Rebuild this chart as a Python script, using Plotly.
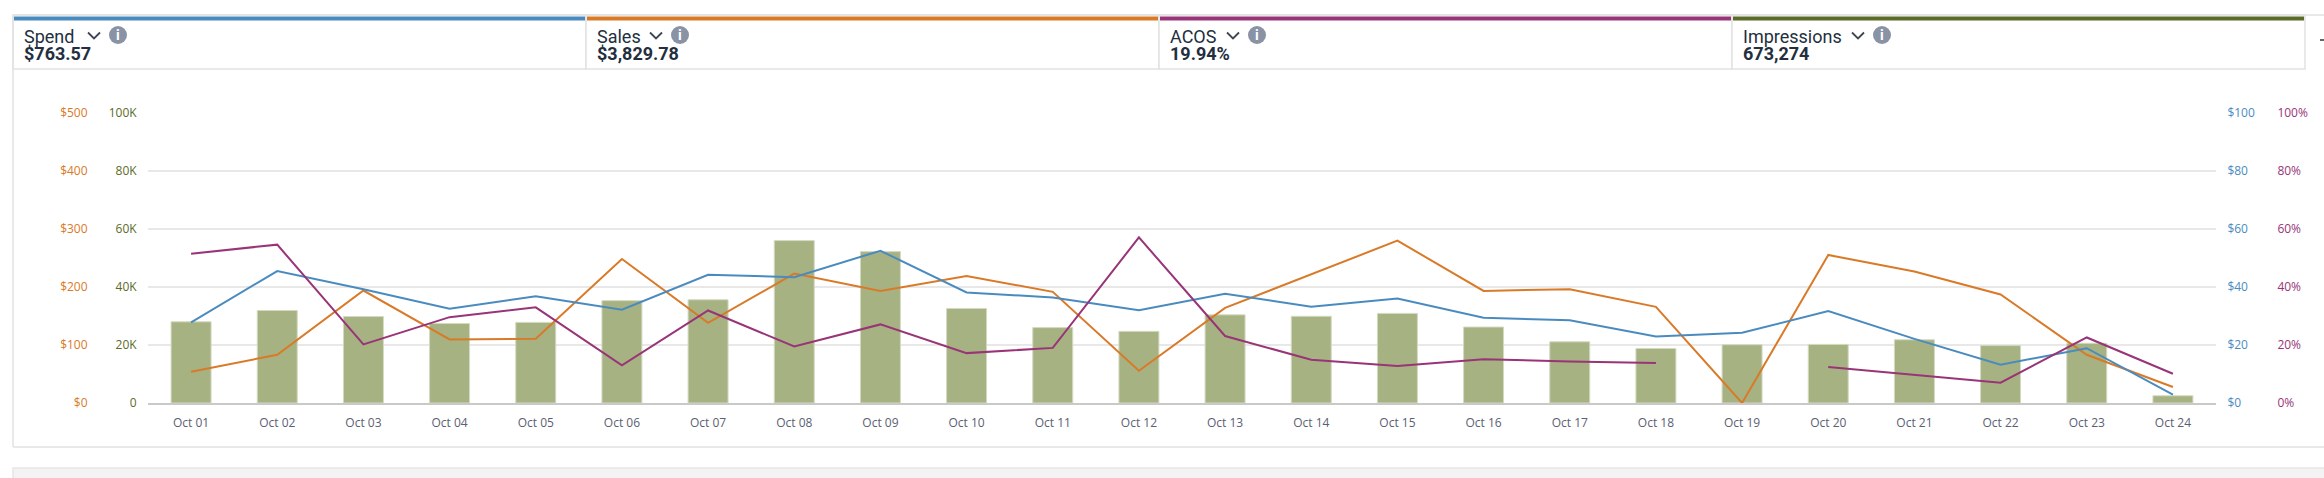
import plotly.graph_objects as go

W, H = 2324, 478

# --- data ---
dates = ["Oct 01", "Oct 02", "Oct 03", "Oct 04", "Oct 05", "Oct 06", "Oct 07", "Oct 08",
         "Oct 09", "Oct 10", "Oct 11", "Oct 12", "Oct 13", "Oct 14", "Oct 15", "Oct 16",
         "Oct 17", "Oct 18", "Oct 19", "Oct 20", "Oct 21", "Oct 22", "Oct 23", "Oct 24"]
impressions = [28000, 31900, 29800, 27400, 27800, 35300, 35600, 56000, 52200, 32600, 26000, 24700,
               30400, 29900, 30900, 26200, 21100, 18800, 20100, 20200, 21800, 19800, 20600, 2500]
spend = [27.8, 45.5, 39.2, 32.5, 36.8, 32.2, 44.2, 43.4, 52.5, 38.1, 36.4, 32.0,
         37.7, 33.2, 36.0, 29.4, 28.5, 22.9, 24.2, 31.7, 22.1, 13.2, 18.9, 2.9]
sales = [53.9, 83.2, 193.9, 109.6, 110.7, 248.4, 138.2, 223.1, 193.3, 219.1, 191.6, 55.6,
         164.0, 221.4, 279.9, 193.3, 196.2, 165.8, 0.0, 255.2, 226.6, 187.0, 83.2, 27.5]
acos = [51.5, 54.6, 20.2, 29.6, 33.0, 13.0, 31.9, 19.5, 27.1, 17.2, 19.0, 57.1,
        23.1, 14.9, 12.8, 15.1, 14.3, 13.8, None, 12.4, 9.8, 7.0, 22.6, 10.1]

metric_names = ["Spend", "Sales", "ACOS", "Impressions"]
metric_totals = ["$763.57", "$3,829.78", "19.94%", "673,274"]

impr_ticks = [0, 20000, 40000, 60000, 80000, 100000]
impr_labels = ["0", "20K", "40K", "60K", "80K", "100K"]
sales_ticks = [0, 100, 200, 300, 400, 500]
sales_labels = ["$0", "$100", "$200", "$300", "$400", "$500"]
spend_ticks = [0, 20, 40, 60, 80, 100]
spend_labels = ["$0", "$20", "$40", "$60", "$80", "$100"]
acos_ticks = [0, 20, 40, 60, 80, 100]
acos_labels = ["0%", "20%", "40%", "60%", "80%", "100%"]

# colours
BLUE = "#4a8bbf"
ORANGE = "#d97a28"
PURPLE = "#983477"
OLIVE_BAR = "#a7b283"
OLIVE_DARK = "#5b6b28"
TEXT_DARK = "#232f3e"
BORDER = "#e2e2e2"


def X(px):
    return px / W


def Y(py):
    return 1 - py / H


# plot area in pixels
PL, PR, PT, PB = 148, 2216, 113, 403

fig = go.Figure()

fig.add_trace(go.Bar(
    x=dates, y=impressions, yaxis="y",
    marker=dict(color=OLIVE_BAR, line=dict(color="#d3dac0", width=1)),
    name="Impressions",
))
fig.add_trace(go.Scatter(
    x=dates, y=spend, yaxis="y3", mode="lines",
    line=dict(color=BLUE, width=2), name="Spend",
))
fig.add_trace(go.Scatter(
    x=dates, y=sales, yaxis="y2", mode="lines",
    line=dict(color=ORANGE, width=2), name="Sales",
))
fig.add_trace(go.Scatter(
    x=dates, y=acos, yaxis="y4", mode="lines", connectgaps=False,
    line=dict(color=PURPLE, width=2), name="ACOS",
))

tick_font = dict(family="Open Sans, sans-serif", size=12)
common_y = dict(showline=False, zeroline=False, automargin=False, fixedrange=True,
                ticks="outside", ticklen=8, tickcolor="rgba(0,0,0,0)")

fig.update_layout(
    template="none",
    width=W, height=H,
    margin=dict(l=0, r=0, t=0, b=0),
    paper_bgcolor="white", plot_bgcolor="white",
    showlegend=False,
    bargap=0.536,
    xaxis=dict(
        domain=[X(PL), X(PR)], range=[-0.5, len(dates) - 0.5],
        showgrid=False, showline=True, linecolor="#c9c9c9", linewidth=2,
        ticks="outside", ticklen=8, tickcolor="rgba(0,0,0,0)",
        tickfont=dict(tick_font, color="#5a6072"), automargin=False,
    ),
    yaxis=dict(
        common_y, domain=[Y(PB), Y(PT)], range=[0, 100000],
        tickvals=impr_ticks, ticktext=impr_labels,
        showgrid=True, gridcolor="#e8e8e8", gridwidth=1.5,
        tickfont=dict(tick_font, color=OLIVE_DARK),
    ),
    yaxis2=dict(
        common_y, overlaying="y", anchor="free", side="left", position=X(98),
        range=[0, 500], tickvals=sales_ticks, ticktext=sales_labels, showgrid=False,
        tickfont=dict(tick_font, color=ORANGE),
    ),
    yaxis3=dict(
        common_y, overlaying="y", anchor="x", side="right",
        range=[0, 100], tickvals=spend_ticks, ticktext=spend_labels, showgrid=False,
        tickfont=dict(tick_font, color=BLUE),
    ),
    yaxis4=dict(
        common_y, overlaying="y", anchor="free", side="right", position=X(2266),
        range=[0, 100], tickvals=acos_ticks, ticktext=acos_labels, showgrid=False,
        tickfont=dict(tick_font, color=PURPLE),
    ),
)

shapes = []
annotations = []

# outer card frame
shapes.append(dict(type="line", xref="paper", yref="paper", x0=X(13), x1=X(W + 5), y0=Y(15), y1=Y(15),
                   line=dict(color=BORDER, width=1.5)))
shapes.append(dict(type="line", xref="paper", yref="paper", x0=X(13), x1=X(13), y0=Y(15), y1=Y(447),
                   line=dict(color=BORDER, width=1.5)))
shapes.append(dict(type="line", xref="paper", yref="paper", x0=X(13), x1=X(W + 5), y0=Y(447), y1=Y(447),
                   line=dict(color=BORDER, width=1.5)))
# next card peeking in at the bottom
shapes.append(dict(type="rect", xref="paper", yref="paper", x0=X(13), x1=X(W + 5), y0=Y(468), y1=Y(H + 5),
                   fillcolor="#f3f3f3", line=dict(color="#e6e6e6", width=1.5)))

# metric header boxes
box_lefts = [13, 586, 1159, 1732]
box_width = 573
bar_colors = [BLUE, ORANGE, PURPLE, OLIVE_DARK]
chevron_offsets = [75, 64, 68, 120]
for i in range(4):
    x0 = box_lefts[i]
    x1 = x0 + box_width
    shapes.append(dict(type="rect", xref="paper", yref="paper", x0=X(x0), x1=X(x1), y0=Y(69), y1=Y(15),
                       fillcolor="white", line=dict(color=BORDER, width=1.5), layer="below"))
    shapes.append(dict(type="rect", xref="paper", yref="paper", x0=X(x0 + 1), x1=X(x1 - 1),
                       y0=Y(20.5), y1=Y(16.5), fillcolor=bar_colors[i], line=dict(width=0)))
    annotations.append(dict(xref="paper", yref="paper", x=X(x0 + 9), y=Y(36.5), xanchor="left",
                            yanchor="middle", showarrow=False, text=metric_names[i],
                            font=dict(family="Roboto, sans-serif", size=18, color=TEXT_DARK)))
    annotations.append(dict(xref="paper", yref="paper", x=X(x0 + 9), y=Y(53), xanchor="left",
                            yanchor="middle", showarrow=False, text="<b>" + metric_totals[i] + "</b>",
                            font=dict(family="Roboto, sans-serif", size=18, color=TEXT_DARK)))
    cx = x0 + chevron_offsets[i]
    shapes.append(dict(type="path", xref="paper", yref="paper",
                       path=f"M {X(cx)},{Y(32.5)} L {X(cx + 6)},{Y(38.5)} L {X(cx + 12)},{Y(32.5)}",
                       line=dict(color="#3e4552", width=1.8)))
    ic = cx + 30
    shapes.append(dict(type="circle", xref="paper", yref="paper", x0=X(ic - 9), x1=X(ic + 9),
                       y0=Y(44), y1=Y(26), fillcolor="#8a93a5", line=dict(width=0)))
    annotations.append(dict(xref="paper", yref="paper", x=X(ic), y=Y(35), xanchor="center",
                            yanchor="middle", showarrow=False, text="<b>i</b>",
                            font=dict(family="Roboto, sans-serif", size=14, color="white")))

# tiny control glyph cut off at the right edge
shapes.append(dict(type="line", xref="paper", yref="paper", x0=X(2320), x1=X(2324), y0=Y(40), y1=Y(40),
                   line=dict(color="#333333", width=1.5)))

fig.update_layout(shapes=shapes, annotations=annotations)

# the default page adds an 8px body margin; drop it so pixels line up with the layout
fig.write_html("out.html", config={"displayModeBar": False},
               post_script="document.body.style.margin='0';document.body.style.overflow='hidden';")
